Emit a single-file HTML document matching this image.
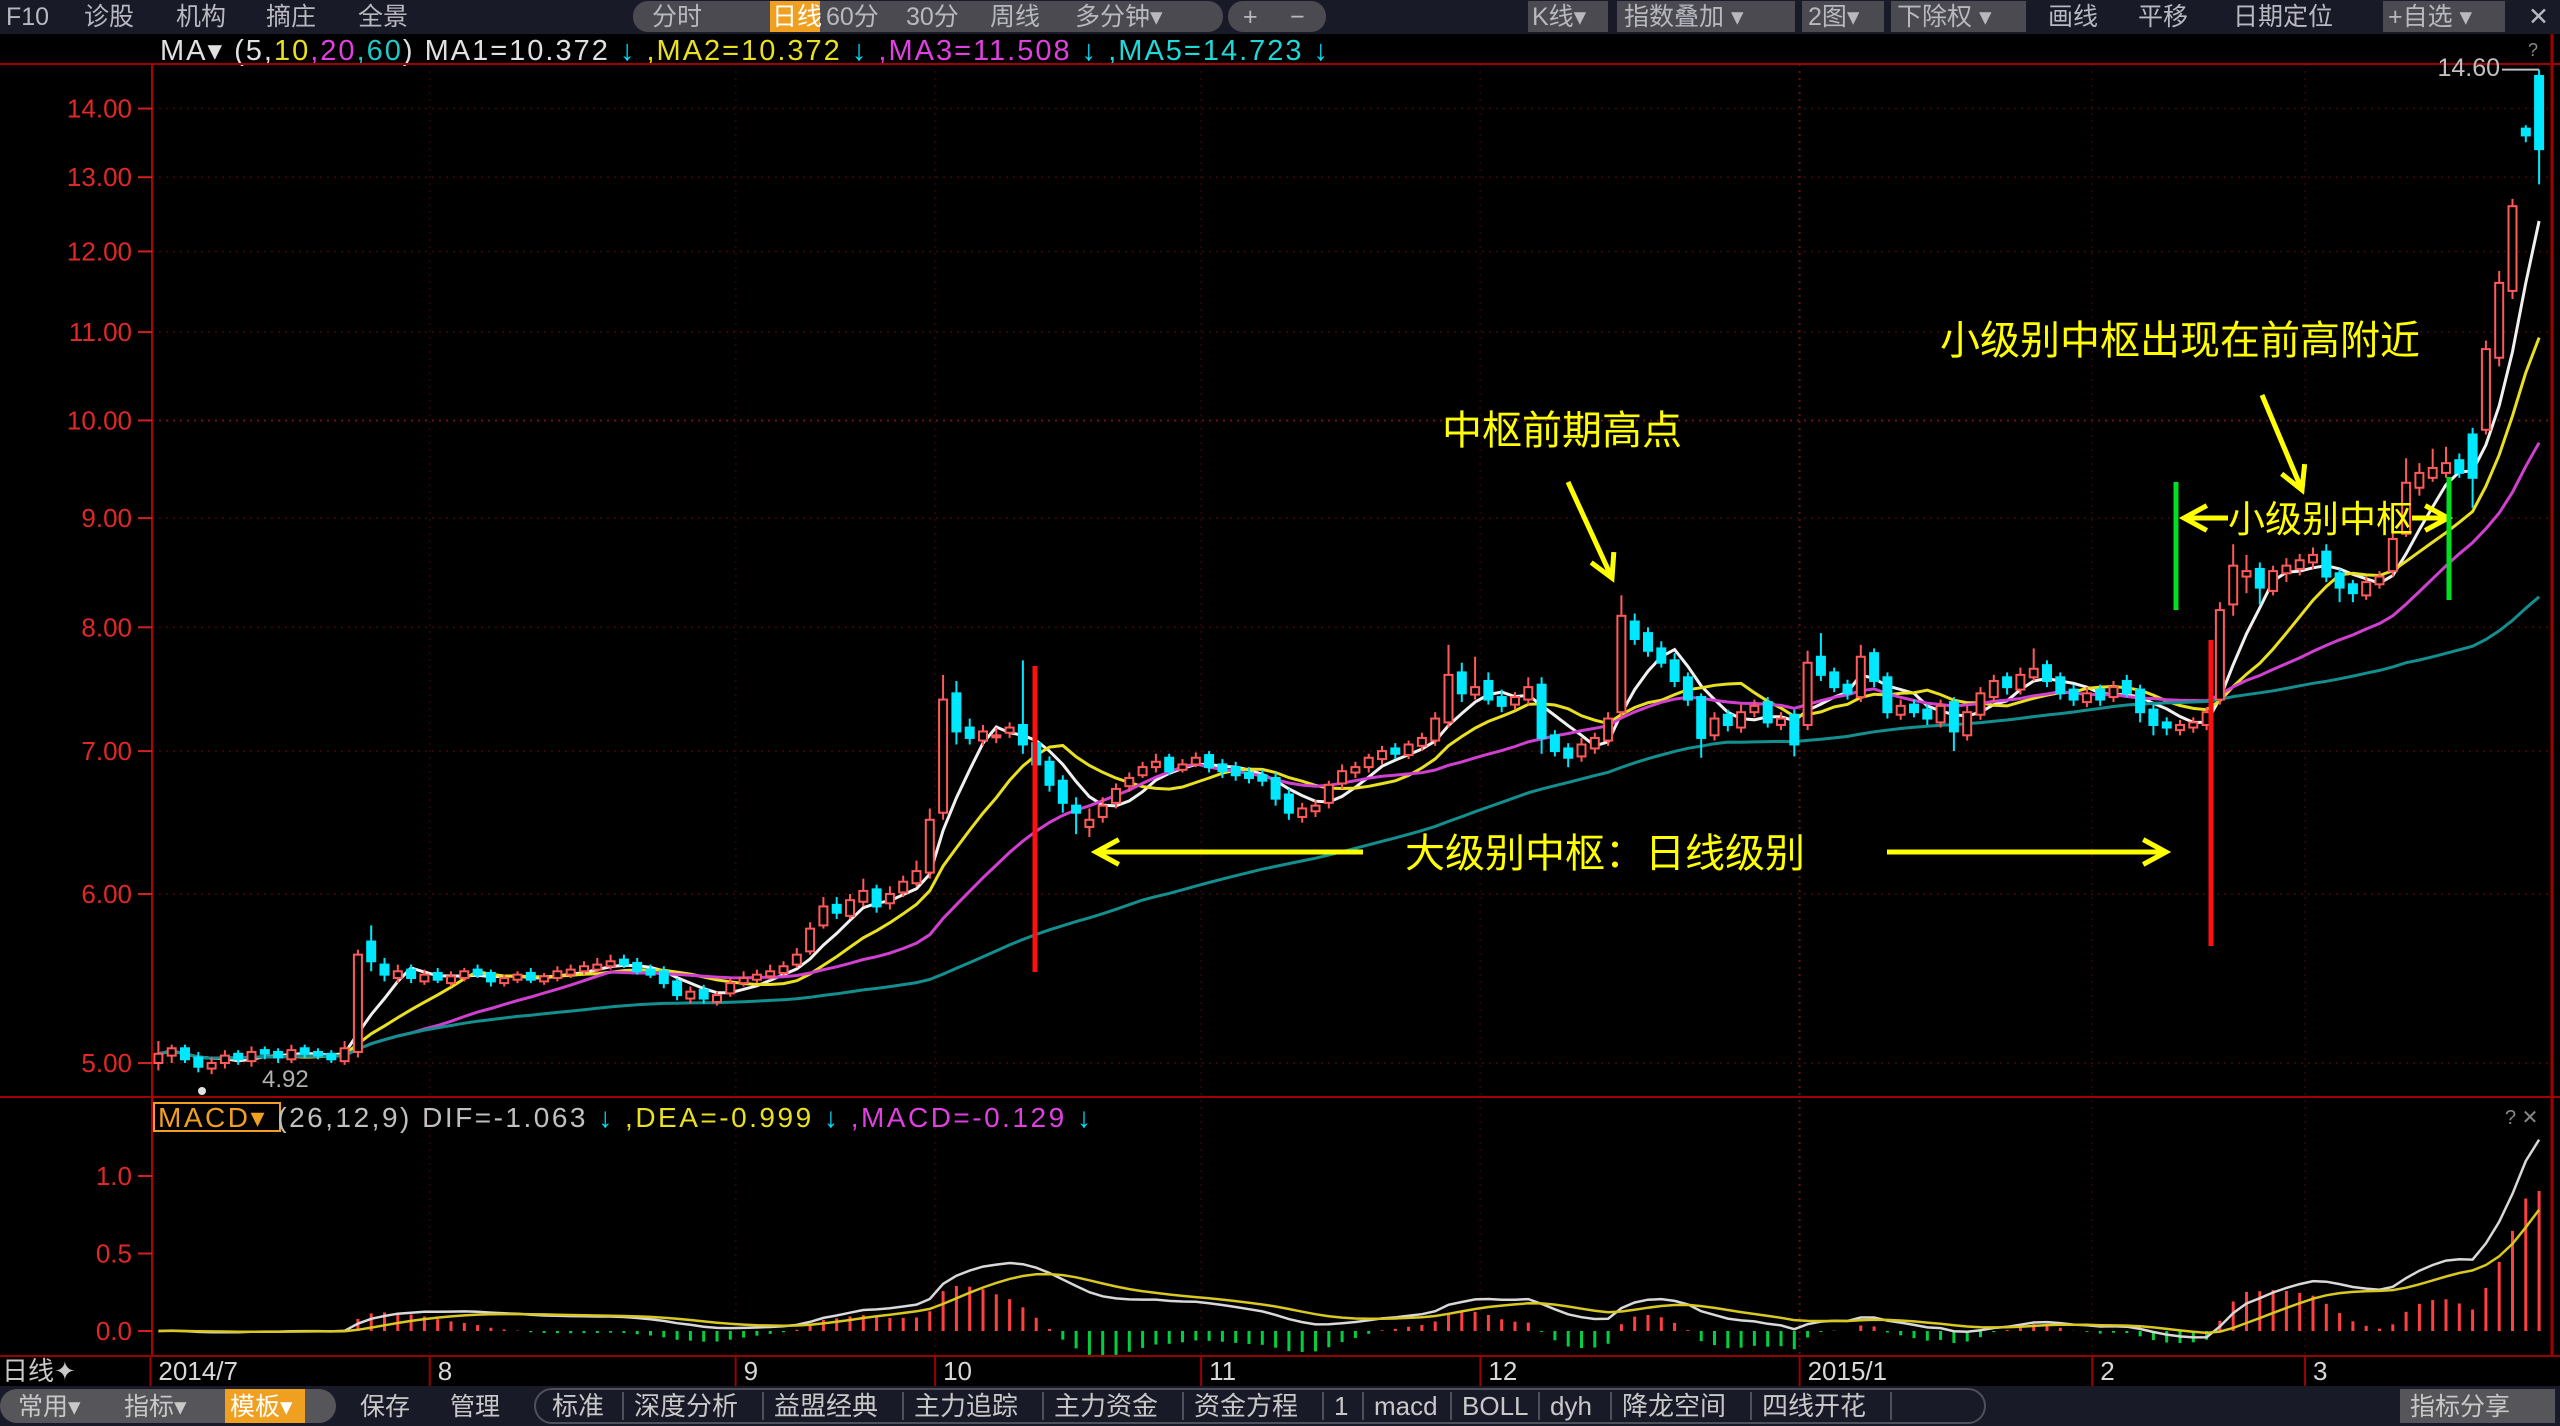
<!DOCTYPE html>
<html><head><meta charset="utf-8"><title>K线 日线 图</title>
<style>
html,body{margin:0;padding:0;background:#000;width:2560px;height:1426px;overflow:hidden}
svg{display:block}
text{font-family:"Liberation Sans","Noto Sans CJK SC",sans-serif}
.tb{fill:#b8b8c0;font-size:25px}
</style></head>
<body>
<svg id="chart" width="2560" height="1426" viewBox="0 0 2560 1426" xmlns="http://www.w3.org/2000/svg">
  <rect x="0" y="0" width="2560" height="34" fill="#181a28"/>
  <g>
    <text class="tb" x="6" y="25">F10</text>
    <text class="tb" x="84" y="25">诊股</text>
    <text class="tb" x="176" y="25">机构</text>
    <text class="tb" x="266" y="25">摘庄</text>
    <text class="tb" x="358" y="25">全景</text>
  </g>
  <rect x="633" y="1" width="590" height="31" rx="15" fill="#4a4a50"/>
  <rect x="770" y="1" width="50" height="31" fill="#f0a020"/>
  <text class="tb" x="652" y="25">分时</text>
  <text class="tb" x="772" y="25" style="fill:#fff">日线</text>
  <text class="tb" x="826" y="25">60分</text>
  <text class="tb" x="906" y="25">30分</text>
  <text class="tb" x="990" y="25">周线</text>
  <text class="tb" x="1075" y="25">多分钟▾</text>
  <rect x="1228" y="1" width="98" height="31" rx="15" fill="#4a4a50"/>
  <text class="tb" x="1243" y="25">+</text>
  <text class="tb" x="1290" y="25">−</text>
  <rect x="1528" y="1" width="80" height="31" fill="#4a4a50"/>
  <text class="tb" x="1532" y="25">K线▾</text>
  <rect x="1617" y="1" width="178" height="31" fill="#4a4a50"/>
  <text class="tb" x="1624" y="25">指数叠加 ▾</text>
  <rect x="1802" y="1" width="82" height="31" fill="#4a4a50"/>
  <text class="tb" x="1808" y="25">2图▾</text>
  <rect x="1891" y="1" width="135" height="31" fill="#4a4a50"/>
  <text class="tb" x="1897" y="25">下除权 ▾</text>
  <text class="tb" x="2048" y="25">画线</text>
  <text class="tb" x="2138" y="25">平移</text>
  <text class="tb" x="2233" y="25">日期定位</text>
  <rect x="2383" y="1" width="122" height="31" fill="#4a4a50"/>
  <text class="tb" x="2388" y="25">+自选 ▾</text>
  <text class="tb" x="2528" y="25">✕</text>

  <g font-size="29" letter-spacing="2">
    <text x="160" y="60"><tspan fill="#e0e0e0">MA▾ (5,</tspan><tspan fill="#e8e020">10</tspan><tspan fill="#e040e0">,20</tspan><tspan fill="#20c8c8">,60</tspan><tspan fill="#e0e0e0">)  MA1=10.372 </tspan><tspan fill="#00e0ff">↓</tspan><tspan fill="#e8e020"> ,MA2=10.372 </tspan><tspan fill="#00e0ff">↓</tspan><tspan fill="#e040e0"> ,MA3=11.508 </tspan><tspan fill="#00e0ff">↓</tspan><tspan fill="#20d8d8"> ,MA5=14.723 </tspan><tspan fill="#00e0ff">↓</tspan></text>
  </g>
  <text x="2528" y="56" fill="#888" font-size="18">?</text>

  <g id="grid"></g>
  <g id="axes"></g>
  <g id="ma"></g>
  <g id="candles"></g>
  <g id="macd"></g>

  <rect x="154" y="1103" width="126" height="28" fill="none" stroke="#f0a020" stroke-width="2"/>
  <g font-size="28" letter-spacing="2.5">
    <text x="158" y="1127"><tspan fill="#f0a020">MACD▾</tspan><tspan fill="#c0c0c0"> (26,12,9)  DIF=-1.063 </tspan><tspan fill="#00e0ff">↓</tspan><tspan fill="#e8e020"> ,DEA=-0.999 </tspan><tspan fill="#00e0ff">↓</tspan><tspan fill="#e040e0"> ,MACD=-0.129 </tspan><tspan fill="#00e0ff">↓</tspan></text>
  </g>
  <text x="2505" y="1124" fill="#888" font-size="20">? ✕</text>

  <g id="annot" fill="#ffff00" font-size="40">
    <text x="1442" y="444">中枢前期高点</text>
    <text x="1940" y="354">小级别中枢出现在前高附近</text>
    <text x="1405" y="867">大级别中枢：日线级别</text>
    <text x="2228" y="532" font-size="37">小级别中枢</text>
  </g>

  <rect x="0" y="1356" width="2560" height="30" fill="#000"/>
  <line x1="0" y1="1356" x2="2560" y2="1356" stroke="#900" stroke-width="2"/>
  <text x="2" y="1380" fill="#c8c8c8" font-size="26">日线✦</text>
  <g id="dates"></g>

  <rect x="0" y="1386" width="2560" height="40" fill="#181a28"/>
  <rect x="0" y="1389" width="336" height="34" rx="17" fill="#55555a"/>
  <rect x="225" y="1389" width="80" height="34" fill="#f0a020"/>
  <g font-size="25" fill="#c8c8c8">
    <text x="18" y="1415">常用▾</text>
    <text x="124" y="1415">指标▾</text>
    <text x="230" y="1415" fill="#fff">模板▾</text>
    <text x="360" y="1415">保存</text>
    <text x="450" y="1415">管理</text>
  </g>
  <rect x="535" y="1389" width="1450" height="34" rx="17" fill="none" stroke="#50505a" stroke-width="2"/>
  <g id="btabs" font-size="26" fill="#c8c8c8"></g>
  <rect x="2400" y="1389" width="155" height="34" fill="#55555a"/>
  <text x="2410" y="1415" font-size="25" fill="#c8c8c8">指标分享</text>
</svg>
<script>
const closes = [
5.05,5.08,5.02,4.98,5.00,5.04,5.02,5.06,5.05,5.03,
5.07,5.05,5.04,5.02,5.08,5.62,5.58,5.50,5.52,5.48,
5.50,5.47,5.49,5.52,5.50,5.46,5.48,5.50,5.47,5.49,
5.52,5.53,5.55,5.56,5.58,5.56,5.52,5.50,5.45,5.38,
5.40,5.36,5.38,5.45,5.48,5.50,5.52,5.55,5.62,5.78,
5.92,5.88,5.96,6.02,5.92,6.00,6.08,6.15,6.50,7.40,
7.15,7.10,7.15,7.12,7.18,7.05,6.90,6.75,6.62,6.55,
6.50,6.60,6.72,6.80,6.88,6.92,6.85,6.90,6.95,6.88,
6.85,6.82,6.80,6.78,6.65,6.55,6.58,6.60,6.75,6.85,
6.88,6.95,7.00,6.98,7.05,7.10,7.25,7.60,7.45,7.50,
7.40,7.35,7.42,7.50,7.10,7.00,6.95,7.05,7.10,7.25,
8.10,7.90,7.80,7.70,7.55,7.40,7.10,7.25,7.20,7.30,
7.35,7.22,7.25,7.05,7.70,7.60,7.50,7.45,7.75,7.55,
7.30,7.35,7.30,7.25,7.35,7.15,7.30,7.45,7.55,7.50,
7.60,7.65,7.55,7.45,7.40,7.45,7.40,7.50,7.45,7.30,
7.20,7.18,7.20,7.22,7.30,8.15,8.55,8.50,8.35,8.50,
8.55,8.60,8.65,8.45,8.35,8.30,8.40,8.45,8.80,9.35,
9.45,9.50,9.55,9.45,9.40,10.80,11.60,12.60,13.60,13.40];
const opens = [
5.00,5.04,5.08,5.03,4.97,5.00,5.05,5.01,5.07,5.06,
5.02,5.08,5.06,5.05,5.01,5.06,5.70,5.56,5.48,5.53,
5.46,5.51,5.45,5.48,5.53,5.51,5.45,5.47,5.51,5.46,
5.48,5.50,5.52,5.53,5.55,5.59,5.57,5.53,5.52,5.46,
5.36,5.41,5.34,5.39,5.45,5.47,5.49,5.51,5.56,5.64,
5.80,5.93,5.86,5.95,6.03,5.94,6.01,6.07,6.14,6.55,
7.45,7.18,7.08,7.12,7.14,7.20,7.06,6.92,6.78,6.60,
6.45,6.52,6.62,6.74,6.82,6.88,6.95,6.86,6.90,6.97,
6.90,6.88,6.84,6.82,6.80,6.68,6.52,6.56,6.62,6.76,
6.84,6.88,6.94,7.02,6.97,7.04,7.08,7.22,7.62,7.44,
7.55,7.42,7.36,7.40,7.52,7.12,7.02,6.96,7.02,7.08,
7.30,8.05,7.95,7.82,7.72,7.58,7.42,7.12,7.28,7.18,
7.30,7.38,7.20,7.28,7.20,7.75,7.62,7.52,7.42,7.78,
7.58,7.28,7.36,7.32,7.22,7.38,7.12,7.28,7.42,7.58,
7.48,7.58,7.68,7.58,7.48,7.38,7.48,7.42,7.55,7.48,
7.32,7.22,7.16,7.18,7.20,7.40,8.20,8.45,8.52,8.32,
8.48,8.52,8.58,8.68,8.48,8.38,8.28,8.38,8.50,8.85,
9.30,9.40,9.45,9.58,9.85,9.90,10.70,11.50,13.70,14.50];
const highs = [
5.12,5.10,5.10,5.06,5.03,5.07,5.07,5.09,5.09,5.08,
5.10,5.10,5.08,5.07,5.12,5.65,5.80,5.60,5.56,5.56,
5.53,5.54,5.52,5.54,5.56,5.53,5.50,5.52,5.54,5.51,
5.55,5.56,5.58,5.60,5.62,5.62,5.60,5.56,5.55,5.48,
5.43,5.44,5.40,5.48,5.52,5.53,5.56,5.58,5.66,5.82,
5.98,5.98,6.00,6.10,6.06,6.05,6.12,6.22,6.58,7.60,
7.55,7.25,7.20,7.18,7.22,7.72,7.10,6.96,6.82,6.66,
6.58,6.66,6.76,6.84,6.92,6.98,6.98,6.94,6.99,7.00,
6.94,6.92,6.88,6.86,6.84,6.72,6.62,6.64,6.78,6.90,
6.92,6.98,7.04,7.06,7.08,7.14,7.30,7.85,7.70,7.75,
7.62,7.48,7.46,7.58,7.58,7.16,7.06,7.10,7.14,7.30,
8.28,8.12,8.00,7.88,7.78,7.62,7.45,7.30,7.32,7.36,
7.40,7.42,7.30,7.32,7.80,7.95,7.66,7.56,7.85,7.82,
7.62,7.40,7.40,7.36,7.40,7.42,7.35,7.50,7.60,7.62,
7.66,7.82,7.72,7.62,7.52,7.50,7.52,7.55,7.60,7.52,
7.36,7.26,7.24,7.26,7.34,8.22,8.75,8.65,8.58,8.55,
8.62,8.66,8.72,8.75,8.52,8.42,8.45,8.50,9.00,9.60,
9.55,9.70,9.72,9.65,9.92,10.90,11.75,12.70,13.75,14.60];
const lows = [
4.96,5.00,5.00,4.95,4.94,4.97,4.99,4.98,5.02,5.00,
5.00,5.03,5.02,5.00,4.99,5.03,5.52,5.46,5.45,5.45,
5.44,5.45,5.43,5.46,5.48,5.43,5.43,5.45,5.45,5.44,
5.46,5.48,5.50,5.51,5.53,5.54,5.50,5.48,5.42,5.35,
5.33,5.33,5.32,5.37,5.43,5.45,5.47,5.49,5.54,5.62,
5.78,5.84,5.84,5.92,5.88,5.90,5.98,6.05,6.10,6.50,
7.05,7.05,7.04,7.06,7.10,6.98,6.85,6.70,6.55,6.40,
6.38,6.48,6.58,6.70,6.80,6.84,6.82,6.84,6.88,6.84,
6.80,6.78,6.76,6.74,6.60,6.50,6.48,6.52,6.58,6.72,
6.80,6.84,6.90,6.94,6.94,7.00,7.04,7.18,7.38,7.40,
7.36,7.30,7.32,7.36,6.98,6.96,6.88,6.92,6.98,7.04,
7.26,7.85,7.75,7.66,7.50,7.35,6.95,7.08,7.15,7.14,
7.26,7.18,7.16,6.96,7.16,7.55,7.46,7.40,7.38,7.50,
7.25,7.24,7.26,7.20,7.18,7.00,7.08,7.24,7.38,7.44,
7.44,7.55,7.50,7.40,7.35,7.34,7.35,7.38,7.42,7.22,
7.12,7.12,7.12,7.14,7.16,7.36,8.10,8.30,8.20,8.28,
8.40,8.46,8.52,8.40,8.22,8.22,8.24,8.34,8.45,8.82,
9.22,9.36,9.40,9.40,9.10,9.85,10.60,11.40,13.50,12.90];
const priceTicks = [5,6,7,8,9,10,11,12,13,14];
const macdTicks = [0,0.5,1.0];
const monthLabels = ['2014/7','8','9','10','11','12','2015/1','2','3'];
const monthIndex = [0,21,44,59,79,100,124,146,162];
const maPeriods = [5,10,20,60];
const maColors = ['#f0f0f0','#e8e020','#d040d0','#138f8f'];
const tabLabels = ['标准','深度分析','益盟经典','主力追踪','主力资金','资金方程','1','macd','BOLL','dyh','降龙空间','四线开花'];

const NS='http://www.w3.org/2000/svg';
const X0=158.4, STEP=13.3;
function xOf(i){return X0+STEP*i;}
function yOf(p){return 1063-(Math.log(p)-Math.log(5))*927;}
function yM(v){return 1331-v*155;}
function mk(tag,attrs,parent){const e=document.createElementNS(NS,tag);for(const k in attrs)e.setAttribute(k,attrs[k]);parent.appendChild(e);return e;}

const grid=document.getElementById('grid'), axes=document.getElementById('axes');
[[0,64,2560,64],[0,1097,2560,1097]].forEach(l=>{const e=mk('line',{x1:l[0],y1:l[1],x2:l[2],y2:l[3],stroke:'#a00000','stroke-width':2},axes);

});
const la=mk('line',{x1:152,y1:64,x2:152,y2:1356,stroke:'#b00000','stroke-width':2},axes);


const ra=mk('line',{x1:2552,y1:34,x2:2552,y2:1386,stroke:'#a00000','stroke-width':3},axes);



priceTicks.forEach(p=>{
  const y=yOf(p);
  const g=mk('line',{x1:152,y1:y,x2:2552,y2:y,stroke:p===10?'#701010':'#3a0505','stroke-width':2,'stroke-dasharray':'2 5'},grid);
  
  
  const t=mk('line',{x1:138,y1:y,x2:152,y2:y,stroke:'#d02020','stroke-width':2},axes);
  
  
  const tx=mk('text',{x:132,y:y+9,'text-anchor':'end',fill:'#e02828','font-size':26},axes);
  tx.textContent=p.toFixed(2);
  
  
});
const dates=document.getElementById('dates');
monthLabels.forEach((m,k)=>{
  const x=xOf(monthIndex[k]);
  if(k>0){const g=mk('line',{x1:x-8,y1:64,x2:x-8,y2:1356,stroke:m==='2015/1'?'#601010':'#2a0404','stroke-width':2,'stroke-dasharray':'2 5'},grid);
  
  }
  const t=mk('text',{x:x,y:1380,fill:'#d8d8d8','font-size':26},dates);
  t.textContent=m;
  
  
  const tk=mk('line',{x1:x-8,y1:1356,x2:x-8,y2:1386,stroke:'#900','stroke-width':2},dates);
  
  
});

const maG=document.getElementById('ma');
maPeriods.forEach((n,k)=>{
  let pts=[];
  for(let i=0;i<closes.length;i++){
    const s=Math.max(0,i-n+1);let sum=0;for(let j=s;j<=i;j++)sum+=closes[j];
    pts.push(xOf(i).toFixed(1)+','+yOf(sum/(i-s+1)).toFixed(1));
  }
  const pl=mk('polyline',{points:pts.join(' '),fill:'none',stroke:maColors[k],'stroke-width':3},maG);
  
  
});

const cG=document.getElementById('candles');
for(let i=0;i<closes.length;i++){
  const o=opens[i],c=closes[i],h=highs[i],l=lows[i],x=xOf(i);
  const up=c>=o, col=up?'#ff5a5a':'#00e8ff';
  const w=mk('line',{x1:x,y1:yOf(h),x2:x,y2:yOf(l),stroke:col,'stroke-width':2},cG);
  
  
  const yt=yOf(Math.max(o,c)), yb=yOf(Math.min(o,c));
  const b=mk('rect',{x:x-4,y:yt,width:8,height:Math.max(2,yb-yt),fill:up?'#000':col,stroke:col,'stroke-width':2},cG);
  
  
}
const lowT=mk('text',{x:262,y:1087,fill:'#b0b0b0','font-size':24},cG);
lowT.textContent='4.92';


const lowD=mk('circle',{cx:202,cy:1091,r:4,fill:'#e0e0e0'},cG);


const hi=closes.length-1;
const hiT=mk('text',{x:2500,y:76,'text-anchor':'end',fill:'#c0c0c0','font-size':25},cG);
hiT.textContent='14.60';


const hiL=mk('line',{x1:2502,y1:yOf(highs[hi]),x2:xOf(hi),y2:yOf(highs[hi]),stroke:'#c0c0c0','stroke-width':2},cG);



const mG=document.getElementById('macd');
function ema(arr,n){const k=2/(n+1);let out=[],e=arr[0];arr.forEach((v,i)=>{e=i===0?v:e+k*(v-e);out.push(e);});return out;}
const e12=ema(closes,12), e26=ema(closes,26);
const dif=e12.map((v,i)=>v-e26[i]);
const dea=ema(dif,9);
macdTicks.forEach(v=>{
  const y=yM(v);
  const t=mk('text',{x:132,y:y+9,'text-anchor':'end',fill:'#e02828','font-size':26},mG);
  t.textContent=v.toFixed(1);
  
  
  const tk=mk('line',{x1:138,y1:y,x2:152,y2:y,stroke:'#d02020','stroke-width':2},mG);
  
  
});
for(let i=0;i<closes.length;i++){
  const h=2*(dif[i]-dea[i]);
  const bar=mk('line',{x1:xOf(i),y1:yM(0),x2:xOf(i),y2:yM(h),stroke:h>=0?'#ff4040':'#00d040','stroke-width':3},mG);
  
  
}
[[dif,'#d8d8d8','dif-line'],[dea,'#d8c820','dea-line']].forEach(s=>{
  const pts=s[0].map((v,i)=>xOf(i).toFixed(1)+','+yM(v).toFixed(1)).join(' ');
  const pl=mk('polyline',{points:pts,fill:'none',stroke:s[1],'stroke-width':2.5},mG);
  
  
});

const an=document.getElementById('annot');
function arrow(x1,y1,x2,y2,name){
  const l=mk('line',{x1:x1,y1:y1,x2:x2,y2:y2,stroke:'#ffff00','stroke-width':5},an);
  
  
  const a=Math.atan2(y2-y1,x2-x1),L=26,s=0.5;
  const p=mk('polyline',{points:`${x2-L*Math.cos(a-s)},${y2-L*Math.sin(a-s)} ${x2},${y2} ${x2-L*Math.cos(a+s)},${y2-L*Math.sin(a+s)}`,fill:'none',stroke:'#ffff00','stroke-width':5},an);
  
  
}
arrow(1568,482,1612,578,'prior-high-arrow');
arrow(2262,395,2302,490,'small-pivot-arrow');
arrow(1363,852,1096,852,'big-pivot-left-arrow');
arrow(1887,852,2166,852,'big-pivot-right-arrow');
arrow(2228,518,2184,518,'small-pivot-left-arrow');
arrow(2412,518,2448,518,'small-pivot-right-arrow');
[[1035,666,1035,972,'#ff1010','pivot-start-line'],[2211,640,2211,946,'#ff1010','pivot-end-line'],[2176,482,2176,610,'#00e020','small-pivot-start-line'],[2449,477,2449,600,'#00e020','small-pivot-end-line']].forEach(v=>{
  const l=mk('line',{x1:v[0],y1:v[1],x2:v[2],y2:v[3],stroke:v[4],'stroke-width':5},an);
  
  
});

const bt=document.getElementById('btabs');
let bx=552;
tabLabels.forEach(t=>{
  const e=mk('text',{x:bx,y:1415},bt);
  e.textContent=t;
  
  
  const w=t.length*(/[a-zA-Z0-9]/.test(t)?16:29)+24;
  bx+=w;
  const s=mk('line',{x1:bx-11,y1:1392,x2:bx-11,y2:1420,stroke:'#50505a','stroke-width':2},bt);
  
  
});
</script>
</body></html>
